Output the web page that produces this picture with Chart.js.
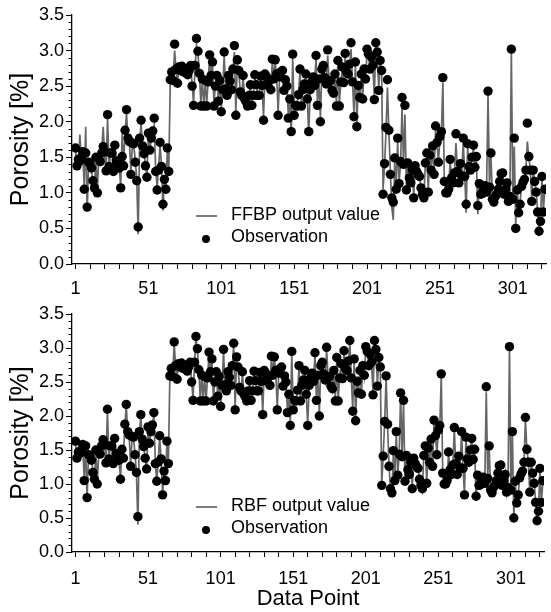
<!DOCTYPE html>
<html>
<head>
<meta charset="utf-8">
<script src="https://cdn.jsdelivr.net/npm/chart.js@4.4.1/dist/chart.umd.min.js"></script>
<style>
  html, body { margin: 0; padding: 0; background: #fff; }
  #wrap { width: 551px; height: 612px; }
  canvas { display: block; }
</style>
</head>
<body>
<div id="wrap">
  <canvas id="topChart" width="551" height="300"></canvas>
  <canvas id="bottomChart" width="551" height="312"></canvas>
</div>
<script>
// observed porosity (%) at each data point, same in both panels
const observed = [
  1.63, 1.38, 1.47, 1.45, 1.50, 1.58, 1.05, 1.56, 0.80, 1.43,
  1.42, 1.35, 1.17, 1.07, 1.50, 1.00, 1.48, 1.44, 1.56, 1.65,
  1.58, 1.31, 2.10, 1.37, 1.56, 1.56, 1.30, 1.67, 1.45, 1.41,
  1.35, 1.07, 1.51, 1.38, 1.88, 2.17, 1.77, 1.72, 1.26, 1.70,
  1.69, 1.43, 1.17, 0.52, 1.77, 2.02, 1.66, 1.55, 1.38, 1.22,
  1.84, 1.60, 1.77, 1.87, 2.05, 1.30, 1.04, 1.32, 1.71, 1.37,
  0.84, 1.19, 1.05, 1.63, 1.30, 2.59, 2.70, 2.58, 3.09, 2.74,
  2.54, 2.77, 2.72, 2.78, 2.70, 2.75, 2.68, 2.66, 2.72, 2.79,
  2.50, 2.23, 2.79, 3.17, 2.99, 2.68, 2.22, 2.60, 2.22, 2.58,
  2.22, 2.56, 2.94, 2.65, 2.84, 2.22, 2.50, 2.65, 2.29, 2.58,
  2.14, 2.45, 2.98, 2.46, 2.37, 2.65, 2.57, 2.45, 2.74, 3.07,
  2.09, 2.87, 2.72, 2.42, 2.37, 2.65, 2.32, 2.28, 2.22, 2.37,
  2.52, 2.23, 2.37, 2.66, 2.52, 2.37, 2.37, 2.64, 2.51, 2.02,
  2.67, 2.63, 2.51, 2.58, 2.45, 2.88, 2.60, 2.87, 2.67, 2.09,
  2.63, 2.70, 2.72, 2.44, 2.59, 2.50, 2.05, 2.32, 1.86, 2.95,
  2.09, 2.23, 2.22, 2.38, 2.74, 2.22, 2.45, 2.53, 2.67, 2.32,
  1.86, 2.45, 2.56, 2.63, 2.51, 2.93, 2.23, 2.60, 2.00, 2.74,
  2.79, 2.62, 2.53, 3.01, 2.56, 2.58, 2.44, 2.40, 2.67, 2.22,
  2.86, 2.22, 2.56, 2.77, 2.55, 2.96, 2.70, 2.67, 2.81, 3.11,
  2.56, 2.07, 2.84, 1.93, 2.51, 2.34, 2.67, 2.32, 2.74, 2.60,
  3.02, 2.95, 2.74, 2.91, 2.79, 2.31, 3.11, 2.98, 2.44, 2.86,
  2.72, 0.98, 1.41, 1.92, 2.59, 1.88, 1.26, 0.93, 0.87, 1.49,
  1.05, 1.77, 1.13, 1.44, 2.34, 1.40, 2.23, 1.04, 1.42, 1.21,
  1.14, 1.33, 0.93, 1.38, 1.30, 1.26, 1.23, 1.07, 0.98, 0.93,
  1.42, 1.56, 1.01, 1.53, 1.32, 1.66, 1.26, 1.94, 1.71, 1.43,
  1.79, 1.86, 2.62, 1.16, 1.00, 1.00, 1.05, 1.47, 1.21, 1.14,
  1.28, 1.83, 1.30, 1.14, 1.41, 1.24, 1.77, 1.23, 0.84, 1.69,
  1.37, 1.32, 1.50, 1.67, 1.36, 1.51, 0.82, 1.13, 0.98, 0.99,
  1.04, 1.10, 1.01, 2.43, 1.08, 1.56, 0.91, 0.87, 0.95, 0.98,
  1.05, 1.16, 1.27, 1.28, 0.98, 1.05, 1.14, 0.88, 0.95, 3.02,
  0.91, 1.77, 0.50, 1.04, 0.72, 0.84, 1.09, 1.15, 1.19, 1.32,
  1.98, 1.51, 1.32, 0.88, 1.32, 1.16, 1.01, 0.73, 0.46, 0.60,
  1.23, 0.73, 1.05
];

// FFBP network output
const ffbpOutput = [
  1.60, 1.40, 1.44, 1.82, 1.48, 1.55, 1.10, 1.93, 0.74, 1.40,
  1.45, 1.28, 1.20, 1.10, 1.46, 1.04, 1.50, 1.42, 1.60, 1.93,
  1.52, 1.35, 2.05, 1.40, 1.52, 1.58, 1.33, 1.63, 1.47, 1.38,
  1.37, 1.10, 1.83, 1.40, 1.84, 2.12, 1.74, 1.70, 1.30, 1.66,
  1.66, 1.46, 1.20, 0.42, 1.72, 1.98, 1.62, 1.57, 1.40, 1.25,
  1.80, 1.62, 1.74, 1.84, 1.96, 1.34, 1.08, 1.35, 1.67, 1.39,
  0.75, 1.22, 1.09, 1.60, 1.33, 2.55, 2.72, 2.60, 3.00, 2.72,
  2.57, 2.74, 2.70, 2.76, 2.72, 2.73, 2.66, 2.68, 2.70, 2.76,
  2.53, 2.26, 2.76, 3.08, 2.95, 2.70, 2.25, 2.58, 2.25, 2.55,
  2.25, 2.58, 2.90, 2.63, 2.80, 2.26, 2.52, 2.62, 2.32, 2.55,
  2.18, 2.47, 2.93, 2.48, 2.40, 2.62, 2.58, 2.47, 2.72, 2.98,
  2.13, 2.83, 2.70, 2.44, 2.40, 2.62, 2.35, 2.30, 2.25, 2.39,
  2.50, 2.26, 2.40, 2.63, 2.50, 2.40, 2.39, 2.62, 2.48, 2.08,
  2.64, 2.60, 2.53, 2.56, 2.48, 2.84, 2.62, 2.83, 2.65, 2.14,
  2.60, 2.68, 2.70, 2.47, 2.57, 2.52, 2.10, 2.35, 1.80, 2.90,
  2.14, 2.26, 2.25, 2.40, 2.70, 2.26, 2.47, 2.55, 2.64, 2.35,
  1.80, 2.47, 2.54, 2.60, 2.53, 2.88, 2.27, 2.58, 2.05, 2.70,
  2.76, 2.60, 2.55, 2.93, 2.58, 2.56, 2.46, 2.42, 2.64, 2.26,
  2.82, 2.25, 2.54, 2.74, 2.57, 2.92, 2.68, 2.65, 2.78, 3.02,
  2.58, 2.12, 2.80, 1.98, 2.53, 2.37, 2.64, 2.35, 2.70, 2.62,
  2.96, 2.92, 2.76, 2.88, 2.77, 2.35, 3.05, 2.94, 2.47, 2.82,
  2.70, 1.05, 1.38, 1.85, 2.48, 1.84, 1.30, 0.80, 0.62, 1.45,
  1.10, 1.72, 1.16, 1.40, 2.20, 1.42, 2.10, 1.08, 1.40, 1.24,
  1.16, 1.30, 0.96, 1.35, 1.33, 1.28, 1.21, 1.10, 1.00, 0.96,
  1.40, 1.52, 1.05, 1.50, 1.35, 1.62, 1.30, 1.88, 1.68, 1.46,
  1.75, 1.82, 2.55, 1.20, 1.04, 1.03, 1.08, 1.44, 1.24, 1.16,
  1.30, 1.70, 1.33, 1.17, 1.38, 1.27, 1.72, 1.25, 0.72, 1.64,
  1.40, 1.34, 1.47, 1.63, 1.38, 1.48, 0.70, 1.16, 1.00, 1.02,
  1.06, 1.12, 1.04, 2.38, 1.10, 1.52, 0.93, 0.90, 0.97, 1.00,
  1.08, 1.18, 1.25, 1.30, 1.00, 1.07, 1.12, 0.90, 0.98, 2.98,
  0.94, 1.65, 0.55, 1.06, 0.75, 0.86, 1.11, 1.17, 1.21, 1.34,
  1.72, 1.48, 1.35, 0.92, 1.30, 1.18, 1.03, 0.76, 0.48, 0.62,
  1.20, 0.76, 1.06
];

// RBF network output
const rbfOutput = [
  1.58, 1.42, 1.46, 1.60, 1.52, 1.56, 1.08, 1.55, 0.78, 1.45,
  1.40, 1.37, 1.19, 1.05, 1.48, 0.98, 1.46, 1.47, 1.58, 1.63,
  1.60, 1.33, 2.08, 1.39, 1.54, 1.55, 1.32, 1.65, 1.44, 1.43,
  1.33, 1.09, 1.49, 1.40, 1.86, 2.15, 1.75, 1.70, 1.28, 1.68,
  1.67, 1.45, 1.15, 0.40, 1.75, 2.00, 1.64, 1.53, 1.40, 1.20,
  1.82, 1.62, 1.75, 1.85, 2.03, 1.32, 1.02, 1.34, 1.69, 1.35,
  0.86, 1.17, 1.07, 1.61, 1.32, 2.57, 2.68, 2.60, 3.07, 2.72,
  2.56, 2.75, 2.70, 2.76, 2.72, 2.73, 2.70, 2.64, 2.74, 2.77,
  2.52, 2.25, 2.77, 3.15, 2.97, 2.66, 2.24, 2.62, 2.24, 2.56,
  2.24, 2.58, 2.92, 2.63, 2.82, 2.24, 2.52, 2.63, 2.31, 2.56,
  2.16, 2.47, 2.96, 2.44, 2.39, 2.63, 2.55, 2.47, 2.72, 3.05,
  2.11, 2.85, 2.70, 2.44, 2.35, 2.63, 2.34, 2.26, 2.24, 2.35,
  2.54, 2.25, 2.35, 2.64, 2.54, 2.35, 2.39, 2.62, 2.53, 2.04,
  2.65, 2.61, 2.53, 2.56, 2.47, 2.86, 2.62, 2.85, 2.65, 2.11,
  2.61, 2.68, 2.70, 2.46, 2.57, 2.52, 2.07, 2.30, 1.88, 2.93,
  2.11, 2.25, 2.24, 2.36, 2.72, 2.24, 2.47, 2.51, 2.65, 2.30,
  1.88, 2.43, 2.58, 2.61, 2.53, 2.91, 2.25, 2.62, 2.02, 2.72,
  2.77, 2.60, 2.51, 2.99, 2.58, 2.56, 2.46, 2.38, 2.65, 2.24,
  2.84, 2.24, 2.58, 2.75, 2.57, 2.94, 2.68, 2.69, 2.79, 3.09,
  2.58, 2.09, 2.82, 1.95, 2.53, 2.36, 2.65, 2.34, 2.72, 2.58,
  3.00, 2.93, 2.76, 2.89, 2.77, 2.33, 3.09, 2.96, 2.46, 2.84,
  2.70, 1.00, 1.43, 1.90, 2.57, 1.86, 1.28, 0.91, 0.85, 1.47,
  1.07, 1.75, 1.15, 1.42, 2.32, 1.42, 2.21, 1.06, 1.40, 1.23,
  1.16, 1.31, 0.95, 1.36, 1.32, 1.24, 1.25, 1.05, 1.00, 0.91,
  1.44, 1.54, 1.03, 1.51, 1.34, 1.64, 1.28, 1.92, 1.69, 1.45,
  1.77, 1.84, 2.60, 1.18, 0.98, 1.02, 1.03, 1.45, 1.23, 1.12,
  1.30, 1.81, 1.28, 1.16, 1.39, 1.26, 1.75, 1.21, 0.86, 1.67,
  1.39, 1.30, 1.52, 1.65, 1.38, 1.49, 0.84, 1.11, 1.00, 0.97,
  1.06, 1.08, 1.03, 2.35, 1.10, 1.54, 0.93, 0.85, 0.97, 0.96,
  1.07, 1.14, 1.29, 1.26, 1.00, 1.03, 1.16, 0.86, 0.97, 3.00,
  0.93, 1.75, 0.52, 1.02, 0.74, 0.82, 1.11, 1.13, 1.21, 1.30,
  1.96, 1.49, 1.34, 0.86, 1.34, 1.14, 1.03, 0.75, 0.44, 0.62,
  1.21, 0.71, 1.04
];

const xLabels = [1, 51, 101, 151, 201, 251, 301];
const yLabels = [0, 0.5, 1.0, 1.5, 2.0, 2.5, 3.0, 3.5];

const FONT = '"Liberation Sans", Arial, Helvetica, sans-serif';

// tick marks every 10 data points, labels only every 50
const xTickPos = [];
for (let v = 1; v <= 321; v += 10) xTickPos.push(v);

const toPoints = arr => arr.map((v, i) => ({ x: i + 1, y: v }));

// short minor ticks on the y axis every 0.1
const minorTicks = {
  id: 'minorTicks',
  afterDraw(chart) {
    const y = chart.scales.y;
    const ctx = chart.ctx;
    ctx.save();
    ctx.strokeStyle = '#000';
    ctx.lineWidth = 1;
    for (let i = 0; i <= 35; i++) {
      if (i % 5 === 0) continue;
      const py = Math.round(y.getPixelForValue(i / 10)) + 0.5;
      ctx.beginPath();
      ctx.moveTo(y.right - 3.5, py);
      ctx.lineTo(y.right, py);
      ctx.stroke();
    }
    ctx.restore();
  }
};

// legend drawn inside the plot area, like the original figure
const innerLegend = {
  id: 'innerLegend',
  afterDatasetsDraw(chart, args, opts) {
    const ctx = chart.ctx;
    const dots = chart.data.datasets[0];
    const line = chart.data.datasets[1];
    ctx.save();
    ctx.strokeStyle = line.borderColor;
    ctx.lineWidth = line.borderWidth;
    ctx.beginPath();
    ctx.moveTo(196, opts.row1 + 1);
    ctx.lineTo(217, opts.row1 + 1);
    ctx.stroke();
    ctx.fillStyle = '#000';
    ctx.beginPath();
    ctx.arc(206, opts.row2 + 2, 4, 0, Math.PI * 2);
    ctx.fill();
    ctx.font = '18px ' + FONT;
    ctx.textBaseline = 'middle';
    ctx.textAlign = 'left';
    ctx.fillText(line.label, 231, opts.row1);
    ctx.fillText(dots.label, 231, opts.row2);
    ctx.restore();
  }
};

function makePanel(canvasId, modelValues, modelLabel, cfg) {
  return new Chart(document.getElementById(canvasId), {
    type: 'line',
    data: {
      datasets: [
        {
          label: 'Observation',
          data: toPoints(observed),
          showLine: false,
          pointRadius: 4.7,
          pointHoverRadius: 4.7,
          pointBackgroundColor: '#000',
          pointBorderWidth: 0,
          order: 0
        },
        {
          label: modelLabel,
          data: toPoints(modelValues),
          borderColor: '#666666',
          borderWidth: 1.7,
          pointRadius: 0,
          tension: 0,
          order: 1
        }
      ]
    },
    options: {
      responsive: false,
      animation: false,
      events: [],
      layout: { padding: { top: cfg.top, left: 0, right: 0, bottom: 0 } },
      plugins: {
        legend: { display: false },
        tooltip: { enabled: false },
        innerLegend: { row1: cfg.row1, row2: cfg.row2 }
      },
      scales: {
        x: {
          type: 'linear',
          min: -1.4,
          max: 323.8,
          afterBuildTicks: s => { s.ticks = xTickPos.map(v => ({ value: v })); },
          afterFit: s => { s.height = cfg.xHeight; },
          ticks: {
            autoSkip: false,
            maxRotation: 0,
            padding: cfg.tickPad,
            color: '#000',
            font: { family: FONT, size: 18 },
            callback: v => (xLabels.includes(v) ? String(v) : '')
          },
          grid: { drawOnChartArea: false, drawTicks: true, tickLength: 5, color: '#000', lineWidth: 1 },
          border: { display: true, color: '#000', width: 1.3 },
          title: {
            display: cfg.xTitle,
            text: 'Data Point',
            color: '#000',
            font: { family: FONT, size: 22 },
            padding: { top: 0, bottom: 0 }
          }
        },
        y: {
          min: 0,
          max: 3.5,
          afterBuildTicks: s => { s.ticks = yLabels.map(v => ({ value: v })); },
          afterFit: s => { s.width = 72; },
          ticks: {
            padding: 2,
            color: '#000',
            font: { family: FONT, size: 18 },
            callback: v => v.toFixed(1)
          },
          grid: { drawOnChartArea: false, drawTicks: true, tickLength: 6, color: '#000', lineWidth: 1 },
          border: { display: true, color: '#000', width: 1.3 },
          title: {
            display: true,
            text: 'Porosity [%]',
            color: '#000',
            font: { family: FONT, size: 25 },
            padding: { top: 6, bottom: 0 }
          }
        }
      }
    },
    plugins: [minorTicks, innerLegend]
  });
}

makePanel('topChart', ffbpOutput, 'FFBP output value',
  { top: 15, xHeight: 36, tickPad: 9, row1: 215, row2: 237, xTitle: false });
makePanel('bottomChart', rbfOutput, 'RBF output value',
  { top: 14, xHeight: 60, tickPad: 11, row1: 206, row2: 228, xTitle: true });
</script>
</body>
</html>
